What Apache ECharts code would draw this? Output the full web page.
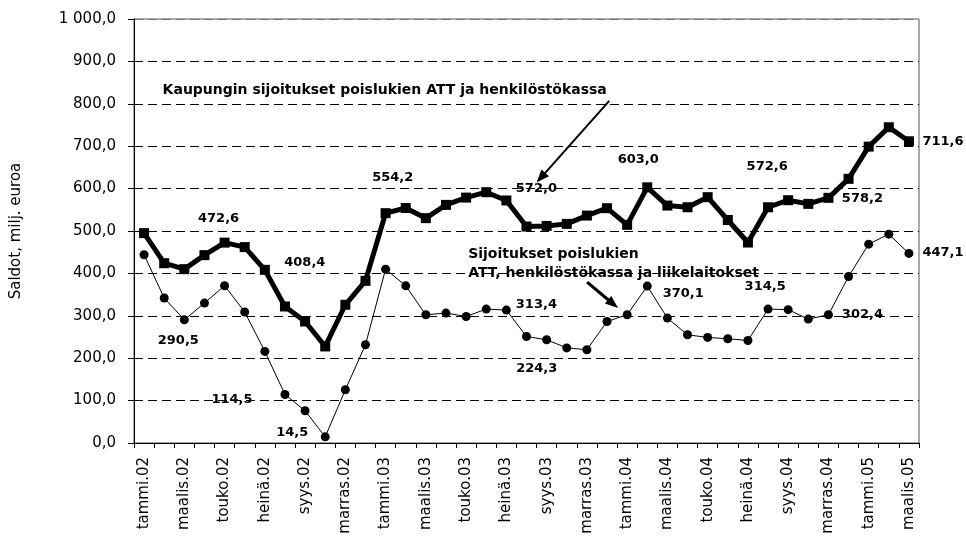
<!DOCTYPE html>
<html><head><meta charset="utf-8">
<script src="https://cdn.jsdelivr.net/npm/echarts@6/dist/echarts.min.js"></script>
<style>html,body{margin:0;padding:0;background:#fff}#c{width:966px;height:537px}</style>
</head><body><div id="c"></div>
<script>
// ---- data ----
const categories = [
  'tammi.02','helmi.02','maalis.02','huhti.02','touko.02','kesä.02','heinä.02','elo.02','syys.02','loka.02','marras.02','joulu.02',
  'tammi.03','helmi.03','maalis.03','huhti.03','touko.03','kesä.03','heinä.03','elo.03','syys.03','loka.03','marras.03','joulu.03',
  'tammi.04','helmi.04','maalis.04','huhti.04','touko.04','kesä.04','heinä.04','elo.04','syys.04','loka.04','marras.04','joulu.04',
  'tammi.05','helmi.05','maalis.05'
];
const kaupunginSijoitukset = [
  495, 424, 410, 443, 472.6, 462, 408.4, 322, 286.6, 227.7, 326, 382.5,
  542, 554.2, 530.3, 561.6, 578.8, 591.5, 572.0, 510.5, 512, 516.8, 536.4, 553.8,
  514.5, 603.0, 560, 556, 579.8, 526, 472.8, 556, 572.6, 564, 578.2, 623,
  699, 744.7, 711.6
];
const ilmanLiikelaitoksia = [
  444, 342, 290.5, 330, 371, 309, 216, 114.5, 76, 14.5, 125.6, 231.7,
  410, 370.7, 302.4, 306.4, 298.4, 315.8, 313.4, 251.3, 243.5, 224.3, 220, 286.6,
  302.4, 370.1, 294.6, 255.2, 249, 245.8, 241.8, 315.8, 314.5, 292.2, 302.4, 392.6,
  469, 492.6, 447.1
];
const seriesNames = [
  'Kaupungin sijoitukset poislukien ATT ja henkilöstökassa',
  'Sijoitukset poislukien ATT, henkilöstökassa ja liikelaitokset'
];
const annotationLines2 = ['Sijoitukset poislukien', 'ATT, henkilöstökassa ja liikelaitokset'];
const yAxisName = 'Saldot, milj. euroa';

// ---- layout (label offsets in px relative to the point) ----
const thickLabelLayout = [[4,-6,-24],[6,40,-7],[13,-13,-30],[18,30,-12],[25,-9,-28],[32,-21,-34],[34,34,1],[38,34,0]];
const thinLabelLayout  = [[2,-6,21],[7,-53,5],[9,-33,-4],[18,30,-5],[21,-30,21],[25,36,8],[32,-23,-23],[34,34,0],[38,34,-1]];

const fmt = v => {
  const s = v.toFixed(1).split('.');
  const ip = s[0].replace(/\B(?=(\d{3})+(?!\d))/g, ' ');
  return ip + ',' + s[1];
};
const FONT = 'DejaVu Sans';
const labelStyle = {show: true, position: 'inside', color: '#000', fontFamily: FONT, fontWeight: 'bold', fontSize: 13,
  formatter: p => fmt(p.value)};

function buildData(values, layout) {
  return values.map((v, i) => {
    const l = layout.find(e => e[0] === i);
    if (!l) return v;
    return {value: v, label: Object.assign({}, labelStyle, {offset: [l[1], l[2]]})};
  });
}

const chart = echarts.init(document.getElementById('c'), null, {renderer: 'canvas'});
const gridColors = ['#000','#000','#000','#000','#000','#000','#000','#000','#000','#000','#777'];
chart.setOption({
  animation: false,
  backgroundColor: '#fff',
  grid: {left: 134, right: 47, top: 19, bottom: 94, containLabel: false, outerBoundsMode: 'none',
    show: true, borderColor: '#555', borderWidth: 1, backgroundColor: 'transparent'},
  xAxis: {
    type: 'category', data: categories, boundaryGap: true,
    axisLine: {show: true, lineStyle: {color: '#000', width: 1}},
    axisTick: {show: true, interval: 0, alignWithLabel: false, length: 5, inside: false, lineStyle: {color: '#000'}},
    axisLabel: {interval: 1, rotate: 90, margin: 14, color: '#000', fontFamily: FONT, fontSize: 15},
    splitLine: {show: false}
  },
  yAxis: {
    type: 'value', min: 0, max: 1000, interval: 100,
    name: yAxisName, nameLocation: 'middle', nameRotate: 90, nameGap: 110,
    nameTextStyle: {color: '#000', fontFamily: FONT, fontSize: 15},
    axisLine: {show: true, lineStyle: {color: '#000', width: 1}},
    axisTick: {show: true, length: 6, lineStyle: {color: '#000'}},
    axisLabel: {color: '#000', fontFamily: FONT, fontSize: 15, margin: 18, formatter: v => fmt(v)},
    splitLine: {show: true, lineStyle: {color: gridColors, type: [9, 5], width: 1}}
  },
  series: [
    {
      name: seriesNames[0], type: 'line', data: buildData(kaupunginSijoitukset, thickLabelLayout),
      symbol: 'rect', symbolSize: 10, showAllSymbol: true,
      lineStyle: {color: '#000', width: 5}, itemStyle: {color: '#000'},
      label: {show: false}, emphasis: {disabled: true}, z: 3
    },
    {
      name: seriesNames[1], type: 'line', data: buildData(ilmanLiikelaitoksia, thinLabelLayout),
      symbol: 'circle', symbolSize: 9, showAllSymbol: true,
      lineStyle: {color: '#000', width: 1}, itemStyle: {color: '#000'},
      label: {show: false}, emphasis: {disabled: true}, z: 4
    }
  ]
});

// ---- annotations anchored to data coordinates ----
function toPx(xi, v) {
  const a = chart.convertToPixel({gridIndex: 0}, [0, v]);
  const b = chart.convertToPixel({gridIndex: 0}, [1, v]);
  return [a[0] + (b[0] - a[0]) * xi, a[1]];
}
function arrow(tail, tip, w) {
  const dx = tip[0] - tail[0], dy = tip[1] - tail[1];
  const L = Math.hypot(dx, dy), ux = dx / L, uy = dy / L;
  const hl = 13, hw = 5;
  const bx = tip[0] - ux * hl, by = tip[1] - uy * hl;
  return [
    {type: 'line', shape: {x1: tail[0], y1: tail[1], x2: bx + ux * 2, y2: by + uy * 2}, style: {stroke: '#000', lineWidth: w}, z: 10},
    {type: 'polygon', shape: {points: [tip, [bx - uy * hw, by + ux * hw], [bx + uy * hw, by - ux * hw]]}, style: {fill: '#000'}, z: 10}
  ];
}
const annStyle = {fill: '#000', font: 'bold 14px "DejaVu Sans"', textAlign: 'left', textVerticalAlign: 'middle'};
const p1 = toPx(0.92, 832.7);
const p2a = toPx(16.1, 443.8);
const p2b = toPx(16.1, 399);
chart.setOption({
  graphic: [
    {type: 'text', x: p1[0], y: p1[1], style: Object.assign({text: seriesNames[0]}, annStyle), z: 10},
    {type: 'text', x: p2a[0], y: p2a[1], style: Object.assign({text: annotationLines2[0]}, annStyle), z: 10},
    {type: 'text', x: p2b[0], y: p2b[1], style: Object.assign({text: annotationLines2[1]}, annStyle), z: 10},
    ...arrow(toPx(23.11, 806.8), toPx(19.50, 614.2), 2),
    ...arrow(toPx(22.01, 379.4), toPx(23.55, 318.2), 3)
  ]
});
</script>
</body></html>
